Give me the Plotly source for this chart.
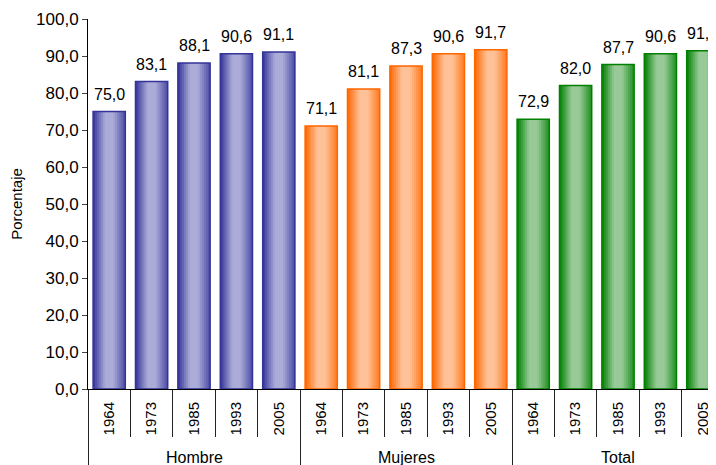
import plotly.graph_objects as go

groups = ["Hombre", "Mujeres", "Total"]
years = ["1964", "1973", "1985", "1993", "2005"]
hombre = [75.0, 83.1, 88.1, 90.6, 91.1]
mujeres = [71.1, 81.1, 87.3, 90.6, 91.7]
total = [72.9, 82.0, 87.7, 90.6, 91.4]

dark = {"Hombre": (51, 51, 153), "Mujeres": (255, 102, 0), "Total": (0, 128, 0)}
light = {"Hombre": (172, 172, 216), "Mujeres": (255, 194, 152), "Total": (152, 202, 152)}

values = hombre + mujeres + total
grp_of = [g for g in groups for _ in years]
xs = list(range(len(values)))
ticktext = years * len(groups)
labels = [f"{v:.1f}".replace(".", ",") for v in values]

W = 0.76
N = 16
FONT = "Liberation Sans, Arial, sans-serif"


def mix(a, b, m):
    return "rgb(%d,%d,%d)" % tuple(round(a[i] + (b[i] - a[i]) * m) for i in range(3))


def profile(t):
    if t < 0.38:
        return t / 0.38
    if t < 0.62:
        return 1.0
    return 1.0 - (t - 0.62) / 0.38 * 0.8


fig = go.Figure()
fig.add_trace(go.Bar(x=xs, y=values, width=W,
                     marker=dict(color=[mix(dark[g], dark[g], 0) for g in grp_of], line=dict(width=0)),
                     hoverinfo="skip", showlegend=False))
step = W / N
for j in range(N):
    t = (j + 0.5) / N
    off = -W / 2 + j * step
    wd = min(step * 1.6, W / 2 - off)
    fig.add_trace(go.Bar(x=xs, y=values, width=wd, offset=off,
                         marker=dict(color=[mix(dark[g], light[g], profile(t)) for g in grp_of],
                                     line=dict(width=0)),
                         hoverinfo="skip", showlegend=False))
fig.add_trace(go.Bar(x=xs, y=values, width=W,
                     marker=dict(color="rgba(0,0,0,0)",
                                 line=dict(color=[mix(dark[g], dark[g], 0) for g in grp_of], width=1.5)),
                     showlegend=False))
# register the helper axes that draw the category separators
fig.add_trace(go.Scatter(x=xs, y=values, mode="none", xaxis="x2", hoverinfo="skip", showlegend=False))
fig.add_trace(go.Scatter(x=xs, y=values, mode="none", xaxis="x3", hoverinfo="skip", showlegend=False))

for xv, v, lab in zip(xs, values, labels):
    fig.add_annotation(text=lab, x=xv, y=v, xref="x", yref="y", yanchor="bottom",
                       yshift=7, showarrow=False,
                       font=dict(family=FONT, size=16, color="black"))

span = 628 / 42.4
xr = [-0.5, -0.5 + span]
inner_b = [i + 0.5 for i in range(len(values) - 1)]
group_b = [-0.5] + [len(years) * (k + 1) - 0.5 for k in range(len(groups))]

for k, g in enumerate(groups):
    fig.add_annotation(text=g, x=k * len(years) + (len(years) - 1) / 2, xref="x",
                       y=-0.186, yref="paper", yanchor="middle", showarrow=False,
                       font=dict(family=FONT, size=16, color="black"))

fig.update_layout(
    width=708, height=457,
    margin=dict(l=80, r=0, t=11, b=76, autoexpand=False),
    paper_bgcolor="white", plot_bgcolor="white",
    barmode="overlay", separators=", ",
    font=dict(family=FONT, color="black"),
    xaxis=dict(range=xr, tickmode="array", tickvals=xs, ticktext=ticktext, tickangle=-90,
               ticks="", showline=True, linecolor="black", linewidth=1, showgrid=False,
               zeroline=False, tickfont=dict(family=FONT, size=15), ticklabelstandoff=6),
    xaxis2=dict(range=xr, overlaying="x", anchor="y", side="bottom", tickmode="array",
                tickvals=inner_b, ticks="outside", ticklen=47, tickcolor="#222", tickwidth=1,
                showticklabels=False, showline=False, showgrid=False, zeroline=False),
    xaxis3=dict(range=xr, overlaying="x", anchor="y", side="bottom", tickmode="array",
                tickvals=group_b, ticks="outside", ticklen=80, tickcolor="#222", tickwidth=1,
                showticklabels=False, showline=False, showgrid=False, zeroline=False),
    yaxis=dict(range=[0, 100], dtick=10, tickformat=".1f", ticks="outside", ticklen=5,
               showline=True, linecolor="black", linewidth=1, showgrid=False, zeroline=False,
               tickfont=dict(family=FONT, size=17), automargin=False,
               title=dict(text="Porcentaje", font=dict(family=FONT, size=15), standoff=10)),
)

fig.write_html("out.html")
